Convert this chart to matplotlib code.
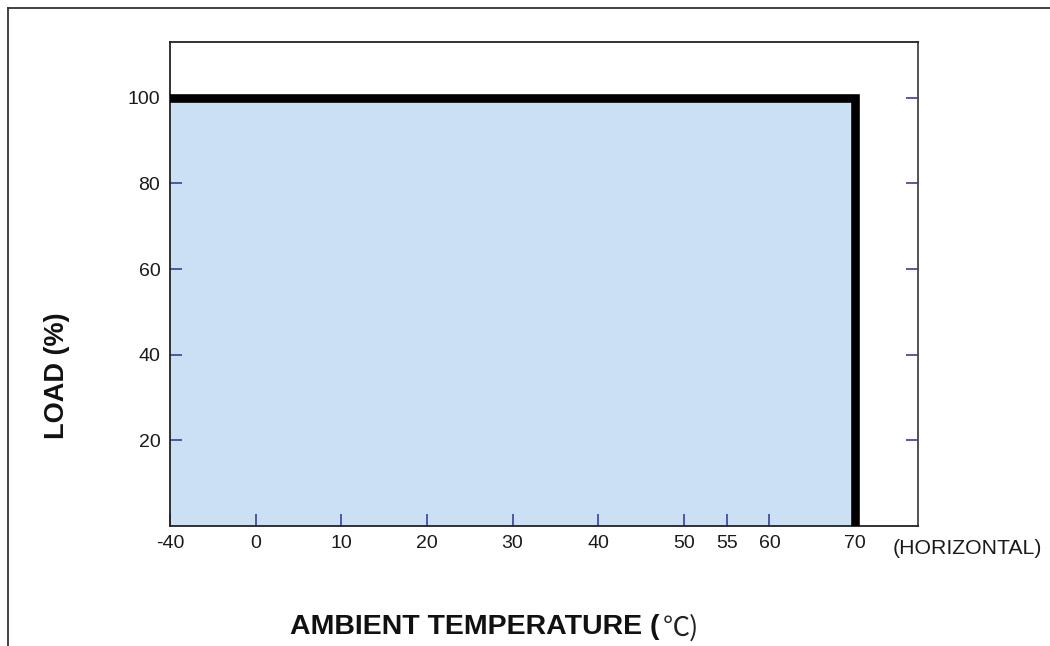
import numpy as np
import matplotlib
matplotlib.use("Agg")
import matplotlib.pyplot as plt
from matplotlib.lines import Line2D

# ---- data ----
temp_points = [-40, 70, 70]          # derating curve (°C)
load_points = [100, 100, 0]          # load (%)
x_ticks = [-40, 0, 10, 20, 30, 40, 50, 55, 60, 70]
y_ticks = [20, 40, 60, 80, 100]
x_label = "AMBIENT TEMPERATURE ("
x_label_unit = "℃)"
y_label = "LOAD (%)"
orientation = "(HORIZONTAL)"

plt.rcParams["font.family"] = ["Liberation Sans", "DejaVu Sans"]

fig = plt.figure(figsize=(10.5, 6.46), dpi=100)
W, H = 1050, 646
ax = fig.add_axes([170 / W, 1 - 526 / H, (918 - 170) / W, (526 - 42) / H])

# compressed segment below 0 (-40 .. 0 drawn as one 10-degree step)
def fwd(x):
    x = np.asarray(x, dtype=float)
    return np.where(x < 0, x / 4.0, x)

def inv(x):
    x = np.asarray(x, dtype=float)
    return np.where(x < 0, x * 4.0, x)

ax.set_xscale("function", functions=(fwd, inv))
ax.set_xlim(-40, 77.35)
ax.set_ylim(0, 113)

ax.fill_between(temp_points[:2], 0, load_points[:2], color="#cce0f4", lw=0, zorder=1)
ax.plot(temp_points, load_points, color="black", lw=6.2, solid_joinstyle="miter",
        solid_capstyle="projecting", zorder=3)

tick_col = "#3c3c9c"
ax.set_xticks(x_ticks)
ax.set_xticklabels([str(t) for t in x_ticks])
ax.set_yticks(y_ticks)
ax.set_yticklabels([str(t) for t in y_ticks])
ax.tick_params(axis="x", direction="in", length=8.5, width=1.2, color=tick_col,
               labelsize=14, labelcolor="#1a1a1a", pad=6.5, top=False)
ax.tick_params(axis="y", direction="in", length=8.5, width=1.2, color=tick_col,
               labelsize=14, labelcolor="#1a1a1a", pad=7, right=True)
for s in ax.spines.values():
    s.set_linewidth(1.3)
    s.set_color("#222222")
ax.spines["right"].set_color("#444444")

fig.text(57 / W, 1 - 376 / H, y_label, rotation=90, ha="center", va="center",
         fontsize=19.5, fontweight="bold", color="#111111")
t1 = fig.text(290 / W, 1 - 627 / H, x_label, ha="left", va="center",
              fontsize=20.5, fontweight="bold", color="#111111")
fig.canvas.draw()
bb = t1.get_window_extent(renderer=fig.canvas.get_renderer())
fig.text(bb.x1 / W + 3 / W, 1 - 628 / H, x_label_unit, ha="left", va="center",
         fontsize=19.5, fontweight="light", color="#222222",
         family=["Noto Sans CJK SC", "DejaVu Sans"])
fig.text(893 / W, 1 - 548 / H, orientation, ha="left", va="center",
         fontsize=15.3, color="#1a1a1a")

# outer frame lines
fig.add_artist(Line2D([8 / W, 1.0], [1 - 8 / H, 1 - 8 / H], color="#333333", lw=1.3,
                      transform=fig.transFigure))
fig.add_artist(Line2D([8 / W, 8 / W], [0.0, 1 - 8 / H], color="#333333", lw=1.3,
                      transform=fig.transFigure))

fig.savefig("out.png", dpi=100)
